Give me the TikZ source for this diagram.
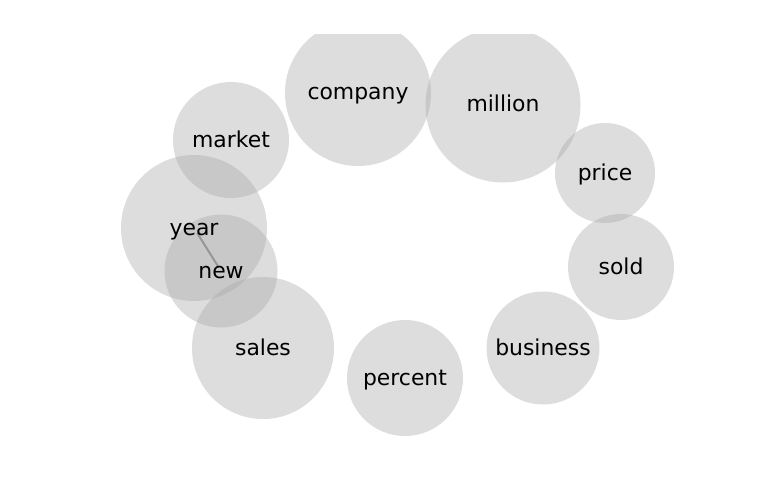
\documentclass[tikz,border=0pt]{standalone}
\usepackage{fontspec}
\setmainfont{DejaVu Sans}
\definecolor{bub}{RGB}{166,166,166}
\definecolor{edgec}{RGB}{150,150,150}
\begin{document}
\begin{tikzpicture}[x=1pt,y=-1pt,
  bubble/.style={circle,fill=bub,fill opacity=0.38,inner sep=0pt},
  lbl/.style={inner sep=0pt,font=\fontsize{21.9}{26}\selectfont,text=black,
    text height=16.6pt,text depth=2.6pt},
  link/.style={draw=edgec,line width=2pt}]
\useasboundingbox[fill=white] (0,0) rectangle (768,500);
\begin{scope}
\clip (0,35) rectangle (768,435);
\node[bubble,minimum size=146pt] (company) at (358,93) {};
\node[bubble,minimum size=155pt] (million) at (503,105) {};
\node[bubble,minimum size=116pt] (market) at (231,140) {};
\node[bubble,minimum size=146pt] (year) at (194,228) {};
\node[bubble,minimum size=113pt] (new) at (221,271) {};
\node[bubble,minimum size=142pt] (sales) at (263,348) {};
\node[bubble,minimum size=116pt] (percent) at (405,378) {};
\node[bubble,minimum size=113pt] (business) at (543,348) {};
\node[bubble,minimum size=106pt] (sold) at (621,267) {};
\node[bubble,minimum size=100pt] (price) at (605,173) {};
\draw[link,shorten <=6pt,shorten >=5pt] (year.center) -- (new.center);
\end{scope}
\node[lbl] (company-l) at (company.center) {company};
\node[lbl] (million-l) at (million.center) {million};
\node[lbl] (market-l) at (market.center) {market};
\node[lbl] (year-l) at (year.center) {year};
\node[lbl] (new-l) at (new.center) {new};
\node[lbl] (sales-l) at (sales.center) {sales};
\node[lbl] (percent-l) at (percent.center) {percent};
\node[lbl] (business-l) at (business.center) {business};
\node[lbl] (sold-l) at (sold.center) {sold};
\node[lbl] (price-l) at (price.center) {price};
\end{tikzpicture}
\end{document}
